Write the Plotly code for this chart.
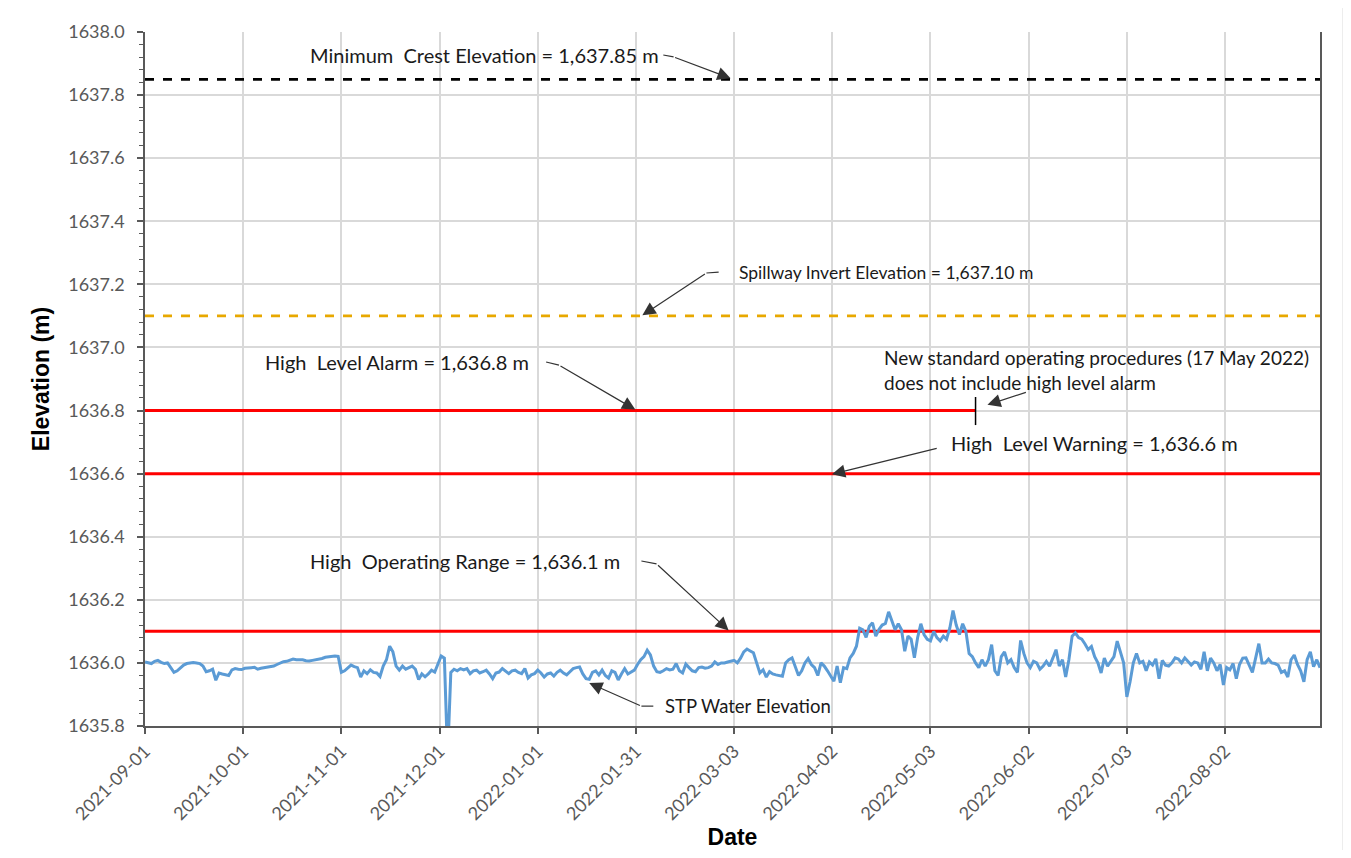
import pandas as pd
import plotly.graph_objects as go

# ---------------- data ----------------
start_date = "2021-09-01"
end_date = "2022-09-01"

elev = [
    1636.003, 1636.000, 1635.998, 1636.005, 1636.008, 1636.002, 1635.998, 1636.000, 1635.985, 1635.970,
    1635.975, 1635.985, 1635.993, 1635.998, 1636.000, 1636.001, 1636.000, 1635.998, 1635.990, 1635.972,
    1635.975, 1635.980, 1635.945, 1635.968, 1635.965, 1635.962, 1635.960, 1635.978, 1635.982, 1635.980,
    1635.979, 1635.983, 1635.985, 1635.985, 1635.986, 1635.980, 1635.983, 1635.985, 1635.986, 1635.987,
    1635.990, 1635.995, 1636.000, 1636.004, 1636.005, 1636.008, 1636.012, 1636.010, 1636.011, 1636.010,
    1636.007, 1636.006, 1636.008, 1636.010, 1636.010, 1636.014, 1636.018, 1636.020, 1636.022, 1636.022,
    1636.021, 1635.970, 1635.975, 1635.985, 1635.993, 1635.988, 1635.985, 1635.955, 1635.975, 1635.966,
    1635.978, 1635.970, 1635.968, 1635.957, 1635.990, 1636.010, 1636.053, 1636.035, 1635.990, 1635.977,
    1635.990, 1635.980, 1635.985, 1635.990, 1635.980, 1635.947, 1635.965, 1635.956, 1635.965, 1635.977,
    1635.971, 1636.000, 1636.022, 1636.015, 1635.700, 1635.970, 1635.980, 1635.975, 1635.982, 1635.978,
    1635.982, 1635.966, 1635.975, 1635.977, 1635.968, 1635.972, 1635.977, 1635.965, 1635.950, 1635.968,
    1635.971, 1635.982, 1635.975, 1635.966, 1635.975, 1635.977, 1635.970, 1635.966, 1635.982, 1635.952,
    1635.962, 1635.966, 1635.977, 1635.968, 1635.955, 1635.965, 1635.968, 1635.958, 1635.970, 1635.977,
    1635.968, 1635.962, 1635.972, 1635.982, 1635.985, 1635.987, 1635.965, 1635.950, 1635.948, 1635.970,
    1635.975, 1635.962, 1635.977, 1635.960, 1635.952, 1635.975, 1635.970, 1635.946, 1635.965, 1635.982,
    1635.965, 1635.972, 1635.977, 1635.995, 1636.010, 1636.020, 1636.040, 1636.025, 1635.990, 1635.972,
    1635.970, 1635.975, 1635.982, 1635.978, 1635.980, 1635.998, 1635.975, 1635.968, 1635.996, 1635.985,
    1635.975, 1635.972, 1635.985, 1635.987, 1635.983, 1635.985, 1635.990, 1636.003, 1635.995, 1636.000,
    1636.000, 1636.003, 1636.005, 1636.008, 1636.000, 1636.015, 1636.035, 1636.044, 1636.038, 1636.032,
    1636.000, 1635.968, 1635.978, 1635.955, 1635.972, 1635.965, 1635.962, 1635.960, 1635.958, 1636.000,
    1636.010, 1636.016, 1635.990, 1635.960, 1635.975, 1636.000, 1636.014, 1635.995, 1635.985, 1635.960,
    1636.000, 1635.990, 1635.975, 1635.960, 1635.942, 1635.990, 1635.937, 1635.985, 1635.982, 1636.016,
    1636.030, 1636.053, 1636.110, 1636.105, 1636.081, 1636.116, 1636.127, 1636.085, 1636.106, 1636.120,
    1636.125, 1636.162, 1636.132, 1636.105, 1636.124, 1636.105, 1636.037, 1636.085, 1636.075, 1636.016,
    1636.080, 1636.124, 1636.090, 1636.075, 1636.070, 1636.100, 1636.080, 1636.070, 1636.085, 1636.075,
    1636.110, 1636.166, 1636.120, 1636.090, 1636.124, 1636.100, 1636.030, 1636.020, 1636.000, 1635.985,
    1636.010, 1635.990, 1636.010, 1636.058, 1635.975, 1635.960, 1636.020, 1636.035, 1636.000, 1636.010,
    1635.985, 1635.970, 1636.071, 1636.030, 1636.000, 1635.985, 1636.005, 1636.000, 1635.980, 1635.990,
    1636.005, 1635.990, 1636.015, 1636.042, 1635.990, 1636.010, 1635.955, 1636.010, 1636.085, 1636.095,
    1636.080, 1636.075, 1636.060, 1636.042, 1636.052, 1636.020, 1636.000, 1635.968, 1636.015, 1635.990,
    1636.005, 1636.020, 1636.069, 1636.030, 1636.000, 1635.892, 1635.940, 1636.000, 1636.030, 1636.000,
    1636.005, 1635.975, 1636.003, 1635.993, 1636.013, 1635.950, 1636.008, 1635.993, 1635.990, 1636.000,
    1636.016, 1636.012, 1636.000, 1636.016, 1636.005, 1635.993, 1636.003, 1636.000, 1635.980, 1636.035,
    1635.975, 1636.015, 1636.000, 1635.975, 1635.995, 1635.930, 1635.985, 1635.978, 1635.998, 1635.950,
    1635.995, 1636.015, 1636.016, 1635.990, 1635.970, 1636.015, 1636.061, 1636.000, 1636.000, 1636.012,
    1636.000, 1635.998, 1635.993, 1635.970, 1635.975, 1635.955, 1636.010, 1636.025, 1635.995, 1635.975,
    1635.940, 1636.010, 1636.035, 1635.988, 1636.010, 1635.985,
]
dates = pd.date_range(start_date, periods=len(elev), freq="D")

min_crest = 1637.85
spillway = 1637.10
hl_alarm = 1636.8
hl_warning = 1636.6
high_op = 1636.1
alarm_end = "2022-05-17"
sop_marker = [1636.843, 1636.754]

tick_dates = ["2021-09-01", "2021-10-01 12:00", "2021-11-01", "2021-12-01 12:00",
              "2022-01-01", "2022-01-31 12:00", "2022-03-03", "2022-04-02 12:00",
              "2022-05-03", "2022-06-02 12:00", "2022-07-03", "2022-08-02 12:00"]
tick_labels = ["2021-09-01", "2021-10-01", "2021-11-01", "2021-12-01", "2022-01-01",
               "2022-01-31", "2022-03-03", "2022-04-02", "2022-05-03", "2022-06-02",
               "2022-07-03", "2022-08-02"]

# ---------------- helpers (layout positions) ----------------
t0 = pd.Timestamp(start_date)


def day(d):
    return (t0 + pd.Timedelta(days=d)).strftime("%Y-%m-%d %H:%M:%S")


FONT = "Lato, 'Open Sans', sans-serif"
GREY = "#595959"
ARROW = "#333333"

fig = go.Figure()

# threshold lines
fig.add_trace(go.Scatter(x=[start_date, end_date], y=[min_crest, min_crest], mode="lines",
                         line=dict(color="black", width=2.8, dash="dash"), hoverinfo="skip"))
fig.add_trace(go.Scatter(x=[start_date, end_date], y=[spillway, spillway], mode="lines",
                         line=dict(color="#E8A800", width=2.8, dash="dash"), hoverinfo="skip"))
fig.add_trace(go.Scatter(x=[start_date, alarm_end], y=[hl_alarm, hl_alarm], mode="lines",
                         line=dict(color="#FF0000", width=3), hoverinfo="skip"))
fig.add_trace(go.Scatter(x=[start_date, end_date], y=[hl_warning, hl_warning], mode="lines",
                         line=dict(color="#FF0000", width=3), hoverinfo="skip"))
fig.add_trace(go.Scatter(x=[start_date, end_date], y=[high_op, high_op], mode="lines",
                         line=dict(color="#FF0000", width=3), hoverinfo="skip"))
fig.add_trace(go.Scatter(x=[alarm_end, alarm_end], y=sop_marker, mode="lines",
                         line=dict(color="black", width=1.5), hoverinfo="skip"))

# water elevation
fig.add_trace(go.Scatter(x=dates, y=elev, mode="lines", name="STP Water Elevation",
                         line=dict(color="#5B9BD5", width=3)))

annotations = []
shapes = []


def label(text, d, y, size):
    annotations.append(dict(x=day(d), y=y, xref="x", yref="y", text=text, showarrow=False,
                            xanchor="left", yanchor="middle", align="left",
                            font=dict(family=FONT, size=size, color="#1a1a1a")))


def leader(points):
    # points: list of (day, value); last one is the arrow tip
    for (d0, v0), (d1, v1) in zip(points[:-2], points[1:-1]):
        shapes.append(dict(type="line", xref="x", yref="y", x0=day(d0), y0=v0, x1=day(d1), y1=v1,
                           line=dict(color=ARROW, width=1.2)))
    (da, va), (dt, vt) = points[-2], points[-1]
    annotations.append(dict(x=day(dt), y=vt, ax=day(da), ay=va, xref="x", yref="y",
                            axref="x", ayref="y", text="", showarrow=True, arrowhead=2,
                            arrowsize=2.2, arrowwidth=1.2, arrowcolor=ARROW))


label("Minimum\u00a0 Crest Elevation = 1,637.85 m", 50.5, 1637.927, 20)
leader([(161.0, 1637.927), (164.2, 1637.921), (181.9, 1637.853)])

label("Spillway Invert Elevation = 1,637.10 m", 183.8, 1637.239, 17.5)
leader([(178.2, 1637.239), (174.4, 1637.236), (154.5, 1637.102)])

label("High\u00a0 Level Alarm = 1,636.8 m", 36.8, 1636.954, 20)
leader([(124.6, 1636.954), (128.6, 1636.944), (152.3, 1636.803)])

label("New standard operating procedures (17 May 2022)<br>does not include high level alarm",
      229.0, 1636.930, 19)
leader([(274.1, 1636.859), (261.7, 1636.818)])

label("High\u00a0 Level Warning = 1,636.6 m", 249.8, 1636.697, 20)
leader([(246.4, 1636.681), (213.4, 1636.598)])

label("High\u00a0 Operating Range = 1,636.1 m", 50.5, 1636.323, 20)
leader([(154.2, 1636.323), (158.9, 1636.314), (181.3, 1636.103)])

label("STP Water Elevation", 161.0, 1635.863, 18.5)
leader([(157.9, 1635.863), (154.2, 1635.863), (138.0, 1635.936)])

# outer chart border
shapes.append(dict(type="rect", xref="paper", yref="paper", x0=-0.1174, x1=1.0196,
                   y0=-0.1845, y1=1.0425, line=dict(color="#d9d9d9", width=1), layer="below"))

# page body adds an 8px offset, so figure is 1335x842 placed at (8, 8)
fig.update_layout(
    width=1335, height=842,
    margin=dict(l=137, r=23, t=24, b=124, autoexpand=False),
    plot_bgcolor="white", paper_bgcolor="white",
    showlegend=False,
    annotations=annotations,
    shapes=shapes,
    font=dict(family=FONT, color=GREY),
    xaxis=dict(
        type="date", range=[start_date, end_date], automargin=False,
        tickmode="array", tickvals=tick_dates, ticktext=tick_labels,
        tickangle=-45, ticks="outside", ticklen=6, tickwidth=1.5, tickcolor=GREY,
        tickfont=dict(family=FONT, size=18, color=GREY),
        showgrid=True, gridcolor="#d9d9d9", gridwidth=1.5,
        showline=True, linecolor=GREY, linewidth=1.5, mirror=False,
        zeroline=False,
        title=dict(text="<b>Date</b>", standoff=2,
                   font=dict(family="Liberation Sans, Arial, sans-serif", size=23, color="black")),
    ),
    yaxis=dict(
        range=[1635.8, 1638.0], tick0=1635.8, dtick=0.2, tickformat=".1f", automargin=False,
        ticks="outside", ticklen=6, tickwidth=1.5, tickcolor=GREY,
        ticklabelstandoff=9,
        minor=dict(dtick=0.04, tick0=1635.8, ticks="outside", ticklen=4, tickwidth=1.2,
                   tickcolor=GREY, showgrid=False),
        tickfont=dict(family=FONT, size=18, color=GREY),
        showgrid=True, gridcolor="#d9d9d9", gridwidth=1.5,
        showline=True, linecolor=GREY, linewidth=1.5, mirror=True,
        zeroline=False,
        title=dict(text="<b>Elevation (m)</b>", standoff=12,
                   font=dict(family="Liberation Sans, Arial, sans-serif", size=23, color="black")),
    ),
)

fig.write_html("out.html")
